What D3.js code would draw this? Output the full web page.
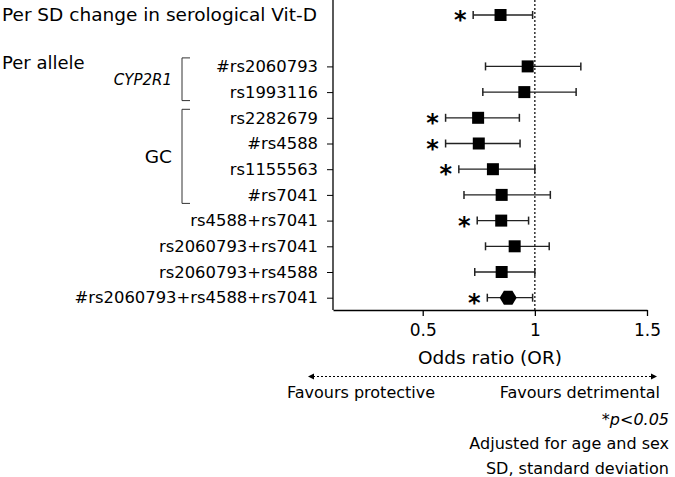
<!DOCTYPE html>
<meta charset="utf-8" />
<style>
  body { margin: 0; background: #fff; }
  svg { font-family: "DejaVu Sans", Verdana, sans-serif; }
</style>
<body>
<div id="chart"></div>
<script src="https://d3js.org/d3.v7.min.js"></script>
<script>
  // rows, top to bottom ("gap" = spacer row)
  const rowIds = ["sd", "gap", "rs2060793", "rs1993116", "rs2282679", "rs4588", "rs1155563", "rs7041",
                  "rs4588+rs7041", "rs2060793+rs7041", "rs2060793+rs4588", "combo3"];
  const rowLabels = ["", "", "#rs2060793", "rs1993116", "rs2282679", "#rs4588", "rs1155563", "#rs7041",
                     "rs4588+rs7041", "rs2060793+rs7041", "rs2060793+rs4588", "#rs2060793+rs4588+rs7041"];
  const orValues = [0.847, null, 0.968, 0.953, 0.747, 0.750, 0.813, 0.852, 0.850, 0.910, 0.852, 0.881];
  const ciLow    = [0.725, null, 0.780, 0.768, 0.602, 0.602, 0.661, 0.684, 0.743, 0.780, 0.732, 0.788];
  const ciHigh   = [0.990, null, 1.205, 1.184, 0.931, 0.934, 1.000, 1.069, 0.972, 1.064, 1.000, 0.990];
  const signif   = [true, false, false, false, true, true, true, false, true, false, false, true];
  const xTicks = [0.5, 1, 1.5];

  const data = rowIds.map((id, i) => ({
    id, label: rowLabels[i], or: orValues[i], lo: ciLow[i], hi: ciHigh[i], sig: signif[i]
  })).filter(d => d.or !== null);

  const width = 675, height = 477;
  const svg = d3.select("#chart").append("svg")
      .attr("width", width).attr("height", height);

  const x = d3.scaleLinear().domain([0.1, 1.5]).range([333, 647]);
  const y = d3.scalePoint().domain(rowIds).range([15, 297.7]);
  const axisY = 310;

  // x axis
  svg.append("g")
      .attr("transform", `translate(0,${axisY})`)
      .style("font-size", "17px")
      .call(d3.axisBottom(x).tickValues(xTicks).tickSize(6).tickSizeOuter(0)
            .tickPadding(8).tickFormat(d3.format("")))
      .call(g => g.selectAll("path,line").attr("stroke", "#000").attr("stroke-width", 1.3))
      .call(g => g.selectAll("text").attr("fill", "#000").attr("font-family", "DejaVu Sans"));

  // y axis line (from the top of the frame)
  svg.append("line")
      .attr("x1", x(0.1)).attr("x2", x(0.1))
      .attr("y1", 0).attr("y2", axisY)
      .attr("stroke", "#000").attr("stroke-width", 1.3);

  const yAxis = d3.axisLeft(y)
      .tickValues(rowIds.slice(2))
      .tickSize(6).tickPadding(9)
      .tickFormat(id => rowLabels[rowIds.indexOf(id)]);
  svg.append("g")
      .attr("transform", `translate(${x(0.1)},0)`)
      .style("font-size", "16.4px")
      .call(yAxis)
      .call(g => g.select(".domain").remove())
      .call(g => g.selectAll("line").attr("stroke", "#000").attr("stroke-width", 1))
      .call(g => g.selectAll("text").attr("fill", "#000").attr("font-family", "DejaVu Sans"));

  // reference line at OR = 1
  svg.append("line")
      .attr("x1", x(1)).attr("x2", x(1))
      .attr("y1", 0).attr("y2", axisY)
      .attr("stroke", "#000").attr("stroke-width", 1.2)
      .attr("stroke-dasharray", "2,2");

  // error bars
  const rows = svg.append("g").selectAll("g")
      .data(data).join("g")
      .attr("transform", d => `translate(0,${y(d.id)})`);

  rows.append("line")
      .attr("x1", d => x(d.lo)).attr("x2", d => x(d.hi))
      .attr("stroke", "#222").attr("stroke-width", 1.3);
  rows.selectAll(".cap")
      .data(d => [d.lo, d.hi]).join("line")
      .attr("class", "cap")
      .attr("x1", v => x(v)).attr("x2", v => x(v))
      .attr("y1", -4).attr("y2", 4)
      .attr("stroke", "#222").attr("stroke-width", 1.5);

  // markers: squares, hexagon for the combined score
  rows.filter(d => d.id !== "combo3").append("rect")
      .attr("x", d => x(d.or) - 6).attr("y", -6)
      .attr("width", 12).attr("height", 12)
      .attr("fill", "#000");
  rows.filter(d => d.id === "combo3").append("path")
      .attr("d", d => {
        const cx = x(d.or), w = 8.5, h = 7;
        return `M${cx - w},0L${cx - w / 2},${-h}L${cx + w / 2},${-h}L${cx + w},0L${cx + w / 2},${h}L${cx - w / 2},${h}Z`;
      })
      .attr("fill", "#000");

  // significance stars
  rows.filter(d => d.sig).append("text")
      .attr("x", d => x(d.lo) - 13)
      .attr("y", 13)
      .attr("text-anchor", "middle")
      .style("font-size", "24px")
      .style("font-weight", "bold")
      .attr("fill", "#000")
      .text("*");

  // left header labels
  svg.append("text").attr("x", 2).attr("y", 21)
      .style("font-size", "18.5px").text("Per SD change in serological Vit-D");
  svg.append("text").attr("x", 2).attr("y", 69)
      .style("font-size", "18px").text("Per allele");

  // gene brackets
  const groups = [
    { name: "CYP2R1", first: "rs2060793", last: "rs1993116", italic: true, size: "15px" },
    { name: "GC", first: "rs2282679", last: "rs7041", italic: false, size: "18.5px" }
  ];
  groups.forEach(gr => {
    const y0 = y(gr.first) - 8.5, y1 = y(gr.last) + 8.5;
    svg.append("path")
        .attr("d", `M190,${y0}H182V${y1}H190`)
        .attr("fill", "none").attr("stroke", "#333").attr("stroke-width", 1);
    svg.append("text")
        .attr("x", 172).attr("y", (y0 + y1) / 2)
        .attr("dy", "0.36em")
        .attr("text-anchor", "end")
        .style("font-size", gr.size)
        .style("font-style", gr.italic ? "italic" : "normal")
        .text(gr.name);
  });

  // axis title
  svg.append("text")
      .attr("x", (x(0.1) + x(1.5)) / 2).attr("y", 364)
      .attr("text-anchor", "middle")
      .style("font-size", "18.5px").text("Odds ratio (OR)");

  // double arrow
  const arrowY = 376.5;
  svg.append("line")
      .attr("x1", 313).attr("x2", 652)
      .attr("y1", arrowY).attr("y2", arrowY)
      .attr("stroke", "#000").attr("stroke-width", 1.2)
      .attr("stroke-dasharray", "2,2");
  svg.append("path").attr("d", `M308,${arrowY}l6,-3v6Z`).attr("fill", "#000");
  svg.append("path").attr("d", `M657,${arrowY}l-6,-3v6Z`).attr("fill", "#000");

  svg.append("text").attr("x", 287).attr("y", 398)
      .style("font-size", "16px").text("Favours protective");
  svg.append("text").attr("x", 660).attr("y", 398)
      .attr("text-anchor", "end")
      .style("font-size", "16px").text("Favours detrimental");

  // footnotes
  const notes = [
    { t: "*p<0.05", y: 425, italic: true },
    { t: "Adjusted for age and sex", y: 449, italic: false },
    { t: "SD, standard deviation", y: 474, italic: false }
  ];
  svg.selectAll(".note").data(notes).join("text")
      .attr("class", "note")
      .attr("x", 669).attr("y", d => d.y)
      .attr("text-anchor", "end")
      .style("font-size", "16px")
      .style("font-style", d => d.italic ? "italic" : "normal")
      .text(d => d.t);
</script>
</body>
